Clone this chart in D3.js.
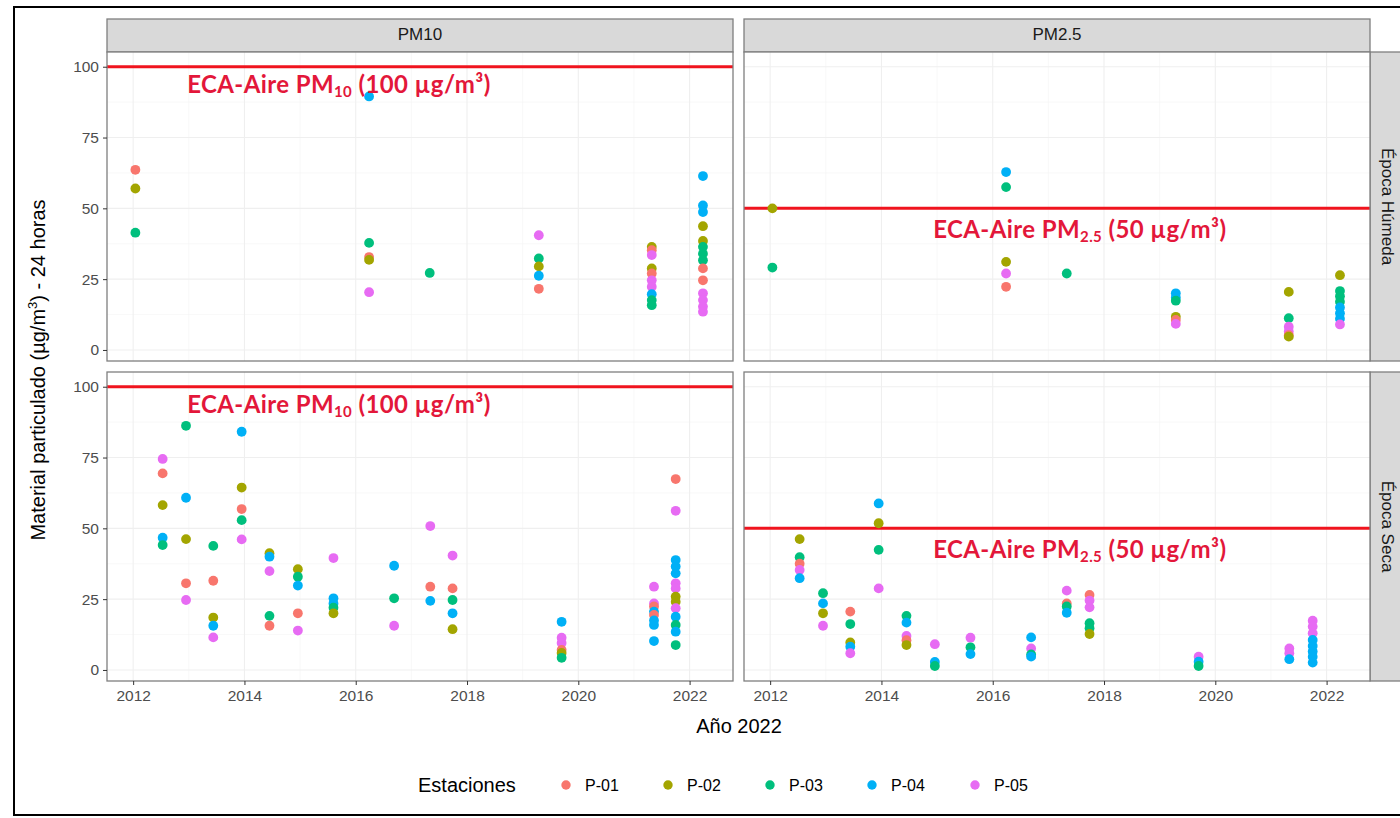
<!DOCTYPE html>
<html><head><meta charset="utf-8">
<script src="https://cdn.jsdelivr.net/npm/d3@7"></script>
<style>body{margin:0;background:#fff}svg{display:block}</style>
</head><body><svg id="c" width="1400" height="818"></svg>
<script>
const stations = ["P-01","P-02","P-03","P-04","P-05"];
const stationColors = ["#F8766D","#A3A500","#00BF7D","#00B0F6","#E76BF3"];
const pollutants = ["PM10","PM2.5"];
const seasons = ["Época Húmeda","Época Seca"];
const xTicks = [2012,2014,2016,2018,2020,2022];
const yTicks = [0,25,50,75,100];
const limits = [100,50];

// [year, station, value]
const pm10Humeda = [
 [2012.04,"P-01",63.6],[2012.04,"P-02",57],[2012.04,"P-03",41.4],
 [2016.24,"P-04",89.5],[2016.24,"P-03",37.8],[2016.24,"P-01",32.8],[2016.24,"P-02",31.8],[2016.24,"P-05",20.4],
 [2017.33,"P-03",27.2],
 [2019.29,"P-05",40.5],[2019.29,"P-03",32.3],[2019.29,"P-02",29.5],[2019.29,"P-04",26.2],[2019.29,"P-01",21.6],
 [2021.32,"P-02",36.4],[2021.32,"P-01",35.2],[2021.32,"P-05",33.5],[2021.32,"P-02",28.8],[2021.32,"P-01",27],
 [2021.32,"P-05",24.6],[2021.32,"P-05",22.3],[2021.32,"P-04",19.7],[2021.32,"P-03",17.6],[2021.32,"P-03",15.8],
 [2022.24,"P-04",61.4],[2022.24,"P-04",51],[2022.24,"P-04",48.7],[2022.24,"P-02",43.7],[2022.24,"P-02",38.5],
 [2022.24,"P-03",36.4],[2022.24,"P-03",34],[2022.24,"P-03",31.7],[2022.24,"P-01",28.8],[2022.24,"P-01",24.6],
 [2022.24,"P-05",20],[2022.24,"P-05",17.6],[2022.24,"P-05",15.3],[2022.24,"P-05",13.5]
];
const pm25Humeda = [
 [2012.04,"P-02",50],[2012.04,"P-03",29.1],
 [2016.24,"P-04",62.8],[2016.24,"P-03",57.5],[2016.24,"P-02",31.1],[2016.24,"P-05",27],[2016.24,"P-01",22.3],
 [2017.33,"P-03",27],
 [2019.29,"P-04",20],[2019.29,"P-04",18.5],[2019.29,"P-03",17.4],[2019.29,"P-02",11.7],[2019.29,"P-01",10.6],[2019.29,"P-05",9.2],
 [2021.32,"P-02",20.5],[2021.32,"P-03",11.2],[2021.32,"P-05",8.2],[2021.32,"P-05",6.5],[2021.32,"P-01",5.2],[2021.32,"P-02",4.7],
 [2022.24,"P-02",26.4],[2022.24,"P-03",20.8],[2022.24,"P-03",19],[2022.24,"P-03",17],[2022.24,"P-04",15],
 [2022.24,"P-04",13],[2022.24,"P-04",11],[2022.24,"P-05",9]
];
const pm10Seca = [
 [2012.53,"P-05",74.5],[2012.53,"P-01",69.4],[2012.53,"P-02",58.2],[2012.53,"P-04",46.7],[2012.53,"P-03",44.1],
 [2012.95,"P-03",86.2],[2012.95,"P-04",60.8],[2012.95,"P-02",46.2],[2012.95,"P-01",30.6],[2012.95,"P-05",24.7],
 [2013.44,"P-03",43.8],[2013.44,"P-01",31.5],[2013.44,"P-02",18.5],[2013.44,"P-04",15.6],[2013.44,"P-05",11.5],
 [2013.95,"P-04",84.1],[2013.95,"P-02",64.4],[2013.95,"P-01",56.8],[2013.95,"P-03",52.9],[2013.95,"P-05",46.1],
 [2014.45,"P-02",41.2],[2014.45,"P-04",40],[2014.45,"P-05",34.9],[2014.45,"P-03",19.1],[2014.45,"P-01",15.6],
 [2014.96,"P-02",35.6],[2014.96,"P-03",32.9],[2014.96,"P-04",29.8],[2014.96,"P-01",20],[2014.96,"P-05",13.9],
 [2015.6,"P-05",39.5],[2015.6,"P-04",25.3],[2015.6,"P-04",23.5],[2015.6,"P-03",22],[2015.6,"P-02",20],
 [2016.69,"P-04",36.8],[2016.69,"P-03",25.3],[2016.69,"P-05",15.6],
 [2017.34,"P-05",50.8],[2017.34,"P-01",29.4],[2017.34,"P-04",24.4],
 [2017.74,"P-05",40.4],[2017.74,"P-01",28.8],[2017.74,"P-03",24.7],[2017.74,"P-04",20],[2017.74,"P-02",14.4],
 [2019.7,"P-04",17],[2019.7,"P-05",11.4],[2019.7,"P-05",9.5],[2019.7,"P-01",7.1],[2019.7,"P-02",6],[2019.7,"P-03",4.3],
 [2021.36,"P-05",29.4],[2021.36,"P-05",23.5],[2021.36,"P-01",22.4],[2021.36,"P-04",20.6],[2021.36,"P-01",19.4],
 [2021.36,"P-04",17.5],[2021.36,"P-04",15.9],[2021.36,"P-04",10.2],
 [2021.75,"P-01",67.4],[2021.75,"P-05",56.2],[2021.75,"P-04",38.8],[2021.75,"P-04",36.5],[2021.75,"P-04",34.1],
 [2021.75,"P-05",30.6],[2021.75,"P-05",28.8],[2021.75,"P-02",25.9],[2021.75,"P-02",24.1],[2021.75,"P-05",21.8],
 [2021.75,"P-04",18.8],[2021.75,"P-03",15.9],[2021.75,"P-04",13.5],[2021.75,"P-03",8.8]
];
const pm25Seca = [
 [2012.53,"P-02",46.2],[2012.53,"P-03",39.8],[2012.53,"P-01",37.5],[2012.53,"P-05",35.3],[2012.53,"P-04",32.4],
 [2012.95,"P-03",27.1],[2012.95,"P-04",23.5],[2012.95,"P-02",20],[2012.95,"P-05",15.6],
 [2013.44,"P-01",20.6],[2013.44,"P-03",16.2],[2013.44,"P-02",9.7],[2013.44,"P-04",8.2],[2013.44,"P-05",5.9],
 [2013.95,"P-04",58.8],[2013.95,"P-02",51.8],[2013.95,"P-03",42.4],[2013.95,"P-05",28.8],
 [2014.45,"P-03",19.1],[2014.45,"P-04",16.7],[2014.45,"P-05",12],[2014.45,"P-01",10.5],[2014.45,"P-02",8.8],
 [2014.96,"P-05",9.1],[2014.96,"P-04",2.8],[2014.96,"P-03",1.4],
 [2015.6,"P-05",11.4],[2015.6,"P-03",8],[2015.6,"P-04",5.6],
 [2016.69,"P-04",11.5],[2016.69,"P-05",7.6],[2016.69,"P-03",5.5],[2016.69,"P-04",4.7],
 [2017.33,"P-05",28],[2017.33,"P-01",23.5],[2017.33,"P-03",22.4],[2017.33,"P-04",20.2],
 [2017.74,"P-01",26.5],[2017.74,"P-05",24.5],[2017.74,"P-05",22.1],[2017.74,"P-03",16.5],[2017.74,"P-03",14.7],[2017.74,"P-02",12.7],
 [2019.7,"P-05",4.7],[2019.7,"P-04",2.9],[2019.7,"P-03",1.4],
 [2021.33,"P-05",7.6],[2021.33,"P-05",5.9],[2021.33,"P-04",3.8],
 [2021.75,"P-05",17.4],[2021.75,"P-05",15.3],[2021.75,"P-05",13],[2021.75,"P-04",10.6],[2021.75,"P-04",8.5],
 [2021.75,"P-04",6.5],[2021.75,"P-04",4.7],[2021.75,"P-04",2.6]
];
const panelData = [[pm10Humeda, pm25Humeda],[pm10Seca, pm25Seca]];
const labelPos = [[2012.97, 93],[2014.93, 41.5]];

const svg = d3.select("#c");
const color = d3.scaleOrdinal().domain(stations).range(stationColors);
const colX = [107, 744], rowY = [52, 372], PW = 626, PH = 309;
const x = d3.scaleLinear().domain([2011.53, 2022.78]).range([0, PW]);
const y = d3.scaleLinear().domain([-3.9, 105.2]).range([PH, 0]);
const FONT = "'Liberation Sans', Arial, sans-serif";
const border = "#7f7f7f";

// outer frame
svg.append("rect").attr("x",14).attr("y",7).attr("width",1400).attr("height",808)
  .attr("fill","none").attr("stroke","#000").attr("stroke-width",2);

// top strips
pollutants.forEach((p,i)=>{
  svg.append("rect").attr("x",colX[i]).attr("y",19).attr("width",PW).attr("height",33)
    .attr("fill","#d9d9d9").attr("stroke",border).attr("stroke-width",1.3);
  svg.append("text").attr("x",colX[i]+PW/2).attr("y",36).attr("text-anchor","middle")
    .attr("dominant-baseline","middle").attr("font-family",FONT).attr("font-size",17)
    .attr("fill","#1a1a1a").text(p);
});
// right strips
seasons.forEach((s,j)=>{
  svg.append("rect").attr("x",1370).attr("y",rowY[j]).attr("width",34).attr("height",PH)
    .attr("fill","#d9d9d9").attr("stroke",border).attr("stroke-width",1.3);
  svg.append("text").attr("transform",`translate(1386,${rowY[j]+PH/2}) rotate(90)`)
    .attr("text-anchor","middle").attr("dominant-baseline","middle").attr("font-family",FONT)
    .attr("font-size",17).attr("fill","#1a1a1a").text(s);
});

function addLabel(g, pi){
  const t = g.append("text").attr("x",x(labelPos[pi][0])).attr("y",y(labelPos[pi][1]))
    .attr("dominant-baseline","middle").attr("font-family","Lato, 'Open Sans', sans-serif")
    .attr("font-weight","bold").attr("font-size",24).attr("letter-spacing",0.4).attr("fill","#e3173a");
  t.append("tspan").text("ECA-Aire PM");
  t.append("tspan").attr("font-size",15).attr("dy",6).text(pi===0?"10":"2.5");
  t.append("tspan").attr("dy",-6).text(pi===0?" (100 µg/m³)":" (50 µg/m³)");
}

for(let r=0;r<2;r++){
  for(let c=0;c<2;c++){
    const g = svg.append("g").attr("transform",`translate(${colX[c]},${rowY[r]})`);
    g.append("rect").attr("width",PW).attr("height",PH).attr("fill","#fff");
    const minorY = [12.5,37.5,62.5,87.5];
    const minorX = [2013,2015,2017,2019,2021];
    g.selectAll(".gym").data(minorY).join("line").attr("x1",0).attr("x2",PW)
      .attr("y1",d=>y(d)).attr("y2",d=>y(d)).attr("stroke","#f4f4f4").attr("stroke-width",0.6);
    g.selectAll(".gxm").data(minorX).join("line").attr("y1",0).attr("y2",PH)
      .attr("x1",d=>x(d)).attr("x2",d=>x(d)).attr("stroke","#f4f4f4").attr("stroke-width",0.6);
    g.selectAll(".gy").data(yTicks).join("line").attr("x1",0).attr("x2",PW)
      .attr("y1",d=>y(d)).attr("y2",d=>y(d)).attr("stroke","#efefef").attr("stroke-width",1.1);
    g.selectAll(".gx").data(xTicks).join("line").attr("y1",0).attr("y2",PH)
      .attr("x1",d=>x(d)).attr("x2",d=>x(d)).attr("stroke","#efefef").attr("stroke-width",1.1);
    g.append("line").attr("x1",0).attr("x2",PW).attr("y1",y(limits[c])).attr("y2",y(limits[c]))
      .attr("stroke","#f0141e").attr("stroke-width",3);
    g.selectAll("circle").data(panelData[r][c]).join("circle")
      .attr("cx",d=>x(d[0])).attr("cy",d=>y(d[2])).attr("r",4.9)
      .attr("fill",d=>color(d[1]));
    addLabel(g, c);
    g.append("rect").attr("width",PW).attr("height",PH).attr("fill","none")
      .attr("stroke",border).attr("stroke-width",1.3);
    if(c===0){
      const ya = g.append("g").call(d3.axisLeft(y).tickValues(yTicks).tickSize(4).tickPadding(4));
      ya.select(".domain").remove();
      ya.selectAll("line").attr("stroke","#333");
      ya.selectAll("text").attr("font-family",FONT).attr("font-size",15.5).attr("fill","#4d4d4d");
    }
    if(r===1){
      const xa = g.append("g").attr("transform",`translate(0,${PH})`)
        .call(d3.axisBottom(x).tickValues(xTicks).tickFormat(d3.format("d")).tickSize(4).tickPadding(5));
      xa.select(".domain").remove();
      xa.selectAll("line").attr("stroke","#333");
      xa.selectAll("text").attr("font-family",FONT).attr("font-size",15.5).attr("fill","#4d4d4d");
    }
  }
}

const yt = svg.append("text").attr("transform","translate(45,370) rotate(-90)")
  .attr("text-anchor","middle").attr("font-family",FONT).attr("font-size",20).attr("fill","#000");
yt.append("tspan").text("Material particulado (µg/m");
yt.append("tspan").attr("font-size",13).attr("dy",-8).text("3");
yt.append("tspan").attr("dy",8).text(") - 24 horas");
svg.append("text").attr("x",739).attr("y",733).attr("text-anchor","middle")
  .attr("font-family",FONT).attr("font-size",20).attr("fill","#000").text("Año 2022");

svg.append("text").attr("x",418).attr("y",792).attr("font-family",FONT).attr("font-size",20)
  .attr("fill","#000").text("Estaciones");
const legX = [566,668,770,872,975];
const lg = svg.selectAll(".leg").data(stations).join("g")
  .attr("transform",(d,i)=>`translate(${legX[i]},785)`);
lg.append("circle").attr("r",4.7).attr("fill",d=>color(d));
lg.append("text").attr("x",19).attr("y",5.5).attr("font-family",FONT).attr("font-size",16)
  .attr("fill","#000").text(d=>d);
</script></body></html>
